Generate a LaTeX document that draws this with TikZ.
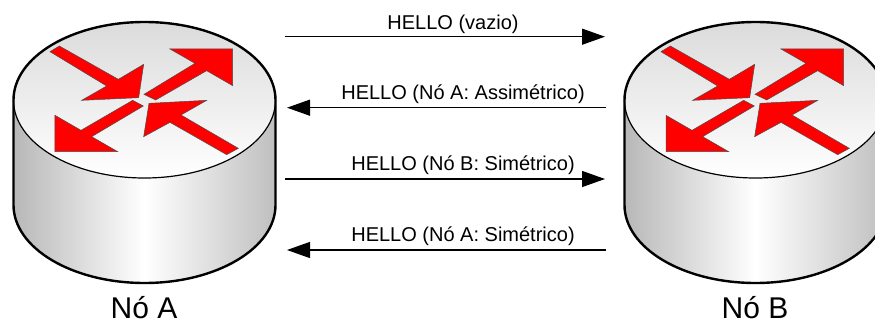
\documentclass[tikz,border=0pt]{standalone}
\usepackage{fontspec}
\setmainfont{Liberation Sans}
\usetikzlibrary{arrows.meta}
\tikzset{
  msg/.style={draw=black,line width=1.3pt,-{Triangle[length=23pt,width=16pt]}},
  msglabel/.style={anchor=base,inner sep=0pt,font=\fontsize{20}{24}\selectfont,text=black},
  nodelabel/.style={anchor=base,inner sep=0pt,font=\fontsize{30}{36}\selectfont,text=black},
  redarrow/.style={fill=red,draw=black!70,line width=.5pt,line join=miter},
  topshade/.style={top color=black!14,bottom color=white},
  outer/.style={draw=black,line width=2.4pt},
}
\newcommand{\routerdraw}[1]{%
  \begin{scope}[xshift=#1pt]
    \shade[left color=black!28,right color=black!25,middle color=white]
      (13.5,222) -- (13.5,117) arc[start angle=180,end angle=360,x radius=131pt,y radius=78pt] -- (275.5,222) -- cycle;
    \shade[topshade] (144.5,222) ellipse[x radius=131pt,y radius=78pt];
    \draw[black,line width=1.2pt] (13.5,222) arc[start angle=180,end angle=360,x radius=131pt,y radius=78pt];
    \draw[outer,line join=round] (13.5,222) -- (13.5,117) arc[start angle=180,end angle=360,x radius=131pt,y radius=78pt] -- (275.5,222)
      arc[start angle=0,end angle=180,x radius=131pt,y radius=78pt];
    \begin{scope}[shift={(0pt,322pt)},x=.33333pt,y=-.33333pt]
      \draw[redarrow] (150,155) -- (178,138) -- (355,238) -- (431,193) -- (416,293) -- (245,301) -- (320,258) -- cycle;
      \draw[redarrow] (432,283) -- (585,190) -- (510,147) -- (698,147) -- (698,257) -- (620,212) -- (467,300) -- cycle;
      \draw[redarrow] (398,301) -- (430,318) -- (275,410) -- (353,455) -- (165,455) -- (165,346) -- (243,391) -- cycle;
      \draw[redarrow] (715,445) -- (680,464) -- (510,367) -- (431,410) -- (447,310) -- (620,301) -- (543,345) -- cycle;
    \end{scope}
  \end{scope}%
}
\begin{document}
\begin{tikzpicture}[x=1pt,y=1pt]
  \useasboundingbox (0,0) rectangle (875,322);
  \clip (0,0) rectangle (875,322);
  \fill[white] (0,0) rectangle (875,322);
  \routerdraw{0}
  \routerdraw{611}
  \node[nodelabel] (na) at (144,3.6) {Nó A};
  \node[nodelabel] (nb) at (755,3.6) {Nó B};
  \coordinate (a1) at (285,285.3); \coordinate (b1) at (605,285.3);
  \coordinate (a2) at (287,214.3); \coordinate (b2) at (606,214.3);
  \coordinate (a3) at (285,143);   \coordinate (b3) at (605,143);
  \coordinate (a4) at (287,72);    \coordinate (b4) at (606,72);
  \draw[msg] (a1) -- (b1);
  \draw[msg] (b2) -- (a2);
  \draw[msg] (a3) -- (b3);
  \draw[msg] (b4) -- (a4);
  \node[msglabel] (l1) at (453,292) {HELLO (vazio)};
  \node[msglabel] (l2) at (463,222.5) {HELLO (Nó A: Assimétrico)};
  \node[msglabel] (l3) at (463,151.3) {HELLO (Nó B: Simétrico)};
  \node[msglabel] (l4) at (463,80.3) {HELLO (Nó A: Simétrico)};
\end{tikzpicture}
\end{document}
